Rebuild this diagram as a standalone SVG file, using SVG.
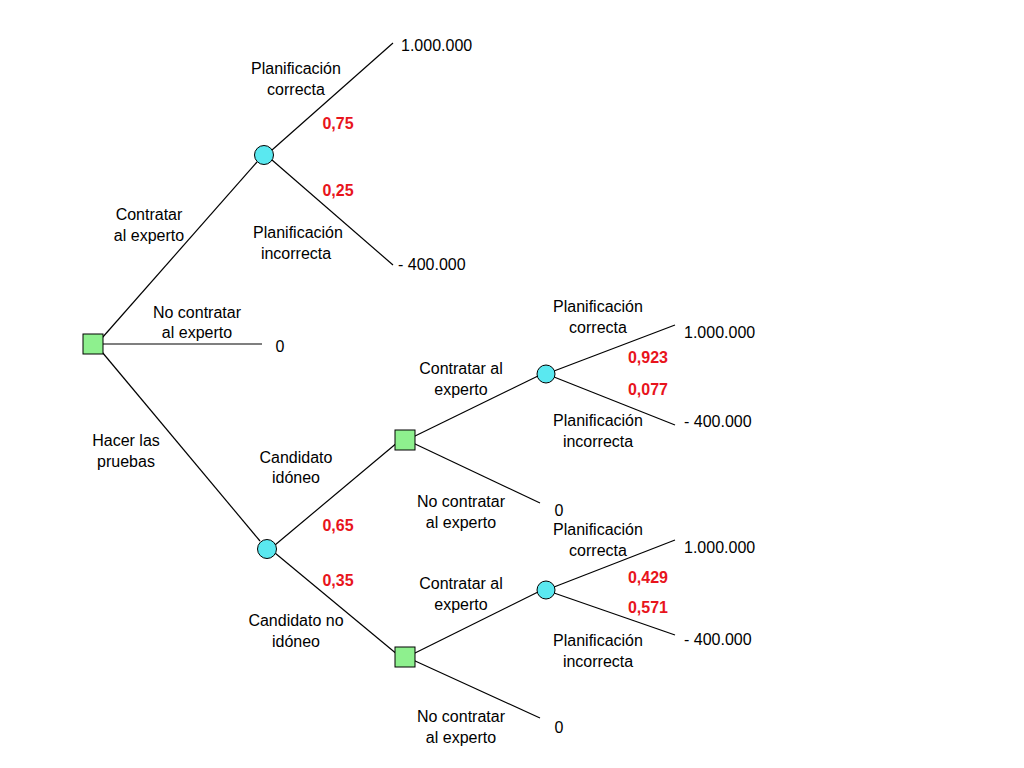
<svg xmlns="http://www.w3.org/2000/svg" width="1024" height="768" viewBox="0 0 1024 768">
<style>
text{font-family:"Liberation Sans",Arial,sans-serif;font-size:16px;fill:#000;text-anchor:middle}
.p{fill:#e8141c;font-weight:bold}
.l{text-anchor:start}
.c{fill:#5ae8f0;stroke:#000;stroke-width:1}
.s{fill:#8ef08e;stroke:#000;stroke-width:1}
line{stroke:#000;stroke-width:1.2}
</style>
<rect width="1024" height="768" fill="#fff"/>
<g id="connectors">
<line x1="102" y1="338" x2="257" y2="162"/>
<line x1="102" y1="344" x2="262" y2="344"/>
<line x1="102" y1="352" x2="260" y2="541"/>
<line x1="272" y1="150" x2="393" y2="43"/>
<line x1="272" y1="160" x2="393" y2="265"/>
<line x1="275" y1="545" x2="398" y2="442"/>
<line x1="275" y1="553" x2="398" y2="655"/>
<line x1="413" y1="437" x2="538" y2="376"/>
<line x1="413" y1="443" x2="540" y2="503"/>
<line x1="554" y1="371" x2="675" y2="325"/>
<line x1="554" y1="377" x2="675" y2="425"/>
<line x1="413" y1="654" x2="538" y2="592"/>
<line x1="413" y1="660" x2="540" y2="718"/>
<line x1="554" y1="587" x2="675" y2="540"/>
<line x1="554" y1="593" x2="675" y2="635"/>
</g>
<g id="root"><rect class="s" x="83" y="334" width="20" height="20"/></g>
<g id="chance1"><circle class="c" cx="264" cy="155" r="9.5"/></g>
<g id="chance2"><circle class="c" cx="267" cy="549" r="9.5"/></g>
<g id="dec2"><rect class="s" x="395" y="430" width="20" height="20"/></g>
<g id="dec3"><rect class="s" x="395" y="647" width="20" height="20"/></g>
<g id="chance3"><circle class="c" cx="546" cy="374" r="9"/></g>
<g id="chance4"><circle class="c" cx="546" cy="590" r="9"/></g>
<g id="labels">
<text x="296" y="74">Planificación</text><text x="296" y="95">correcta</text>
<text class="p" x="338" y="129">0,75</text>
<text class="p" x="338" y="196">0,25</text>
<text x="298" y="238">Planificación</text><text x="296" y="259">incorrecta</text>
<text class="l" x="401" y="51">1.000.000</text>
<text class="l" x="398" y="270">- 400.000</text>
<text x="149" y="220">Contratar</text><text x="149" y="241">al experto</text>
<text x="197" y="318">No contratar</text><text x="197" y="338">al experto</text>
<text x="280" y="352">0</text>
<text x="126" y="446">Hacer las</text><text x="126" y="467">pruebas</text>
<text x="296" y="463">Candidato</text><text x="296" y="483">idóneo</text>
<text class="p" x="338" y="531">0,65</text>
<text class="p" x="338" y="586">0,35</text>
<text x="296" y="626">Candidato no</text><text x="296" y="647">idóneo</text>
<text x="461" y="374">Contratar al</text><text x="461" y="395">experto</text>
<text x="461" y="507">No contratar</text><text x="461" y="528">al experto</text>
<text x="559" y="516">0</text>
<text x="461" y="589">Contratar al</text><text x="461" y="610">experto</text>
<text x="461" y="722">No contratar</text><text x="461" y="743">al experto</text>
<text x="559" y="733">0</text>
<text x="598" y="312">Planificación</text><text x="598" y="333">correcta</text>
<text class="p" x="648" y="363">0,923</text>
<text class="p" x="648" y="395">0,077</text>
<text x="598" y="426">Planificación</text><text x="598" y="447">incorrecta</text>
<text class="l" x="684" y="338">1.000.000</text>
<text class="l" x="684" y="427">- 400.000</text>
<text x="598" y="535">Planificación</text><text x="598" y="556">correcta</text>
<text class="p" x="648" y="583">0,429</text>
<text class="p" x="648" y="613">0,571</text>
<text x="598" y="646">Planificación</text><text x="598" y="667">incorrecta</text>
<text class="l" x="684" y="553">1.000.000</text>
<text class="l" x="684" y="645">- 400.000</text>
</g>
</svg>
